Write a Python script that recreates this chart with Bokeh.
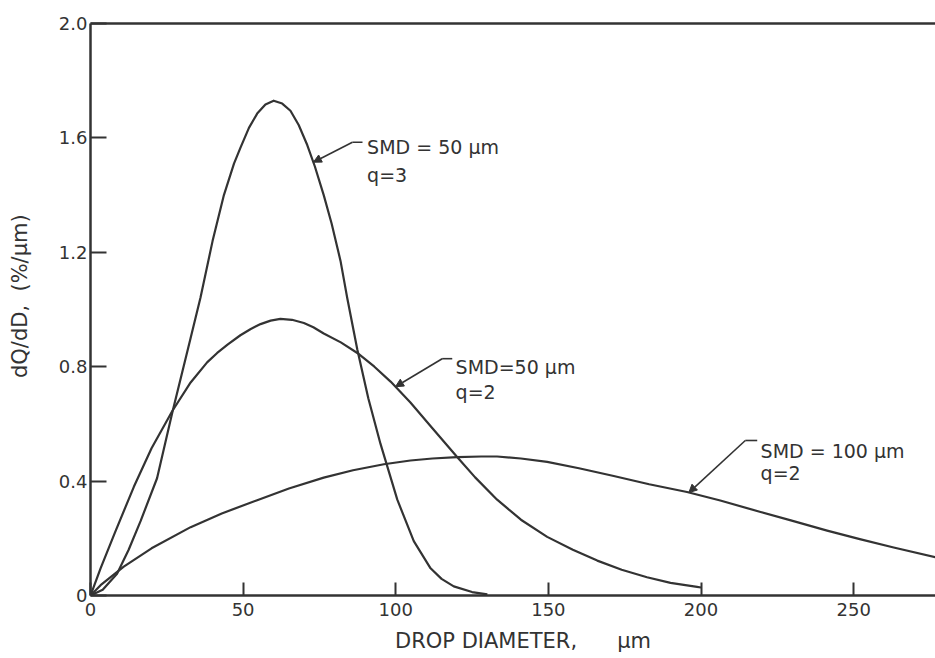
from bokeh.plotting import figure
from bokeh.models import FixedTicker, PrintfTickFormatter, LinearAxis, Arrow, NormalHead, Range1d
from bokeh.embed import file_html
from bokeh.resources import INLINE
from bokeh.core.properties import value

# ---- data ----
x_ticks = [0, 50, 100, 150, 200, 250]
y_ticks = [0, 0.4, 0.8, 1.2, 1.6, 2.0]

# SMD = 50 um, q = 3
smd50_q3_x = [0, 4, 8.7, 12.5, 16.4, 21.8, 26.8, 32.8, 36, 40, 43.7, 47, 49.1, 51.9, 54.6, 57.3,
              60, 62.8, 65.5, 68.2, 71, 73.5, 76.4, 79, 81.9, 84.1, 87.4, 91, 95, 100.5, 105.9,
              111.4, 115, 119, 125, 130]
smd50_q3_y = [0, 0.02, 0.076, 0.16, 0.26, 0.41, 0.64, 0.90, 1.04, 1.24, 1.40, 1.51, 1.565,
              1.635, 1.685, 1.717, 1.73, 1.72, 1.695, 1.645, 1.575, 1.50, 1.40, 1.30, 1.17,
              1.04, 0.86, 0.69, 0.53, 0.335, 0.19, 0.095, 0.058, 0.032, 0.012, 0.004]

# SMD = 50 um, q = 2
smd50_q2_x = [0, 3.3, 8, 14.2, 20, 26.8, 32.8, 38.2, 41.5, 45, 49.1, 52.5, 55.7, 59, 62.2, 66,
              69.9, 73, 76.4, 82, 87.4, 93, 98.3, 104.8, 112, 120.1, 126, 133.2, 141, 149.6, 158,
              166, 174, 182.3, 190, 198.7, 200]
smd50_q2_y = [0, 0.095, 0.22, 0.38, 0.515, 0.645, 0.745, 0.815, 0.848, 0.878, 0.91, 0.932, 0.949,
              0.961, 0.967, 0.964, 0.953, 0.938, 0.916, 0.885, 0.848, 0.80, 0.748, 0.675, 0.585,
              0.484, 0.413, 0.335, 0.265, 0.205, 0.16, 0.122, 0.09, 0.064, 0.044, 0.03, 0.028]

# SMD = 100 um, q = 2
smd100_q2_x = [0, 3.3, 10.9, 20, 32.8, 43, 54.6, 65, 76.4, 86, 96.1, 104.8, 112, 120.1, 128,
               133.2, 141, 149.6, 160, 171.4, 183, 195.4, 206.3, 219.5, 230, 241.3, 252, 263.1,
               276.8]
smd100_q2_y = [0, 0.036, 0.101, 0.165, 0.239, 0.287, 0.333, 0.374, 0.412, 0.438, 0.459, 0.472,
               0.479, 0.484, 0.486, 0.486, 0.479, 0.467, 0.445, 0.418, 0.389, 0.362, 0.332, 0.292,
               0.261, 0.227, 0.197, 0.168, 0.134]

# annotations: curve point, knee, end of leader, text anchor
ann_line1 = ["SMD = 50 \u03bcm", "SMD=50 \u03bcm", "SMD = 100 \u03bcm"]
ann_line2 = ["q=3", "q=2", "q=2"]
ann_curve_x = [73.0, 99.9, 196.0]
ann_curve_y = [1.515, 0.73, 0.36]
ann_knee_x = [85.8, 115.2, 214.5]
ann_knee_y = [1.585, 0.828, 0.542]
ann_end_x = [89.1, 118.5, 218.4]
ann_text_x = [90.6, 119.6, 219.5]
ann_text_y1 = [1.568, 0.798, 0.505]
ann_text_y2 = [1.47, 0.710, 0.427]

INK = "#333333"
FONT = "DejaVu Sans"
NB = "\u00a0"

p = figure(width=935, height=658, output_backend="svg", toolbar_location=None,
           x_range=Range1d(0, 276.8), y_range=Range1d(0, 2.0),
           min_border_left=90, min_border_right=0, min_border_top=23, min_border_bottom=63)
p.outline_line_color = None
p.grid.visible = False

for xs, ys in [(smd50_q3_x, smd50_q3_y), (smd50_q2_x, smd50_q2_y), (smd100_q2_x, smd100_q2_y)]:
    p.line(xs, ys, line_color=INK, line_width=2.2, line_join="round")

for i in range(3):
    p.line([ann_knee_x[i], ann_end_x[i]], [ann_knee_y[i], ann_knee_y[i]], line_color=INK, line_width=1.6)
    p.add_layout(Arrow(end=NormalHead(size=8, fill_color=INK, line_color=INK),
                       x_start=ann_knee_x[i], y_start=ann_knee_y[i],
                       x_end=ann_curve_x[i], y_end=ann_curve_y[i],
                       line_color=INK, line_width=1.6))
p.text(ann_text_x, ann_text_y1, text=ann_line1, text_font=value(FONT), text_font_size="19px",
       text_color=INK, text_baseline="alphabetic", text_align="left")
p.text(ann_text_x, ann_text_y2, text=ann_line2, text_font=value(FONT), text_font_size="19px",
       text_color=INK, text_baseline="alphabetic", text_align="left")

for ax in (p.xaxis[0], p.yaxis[0]):
    ax.axis_line_color = INK
    ax.axis_line_width = 2.5
    ax.major_tick_line_color = INK
    ax.major_tick_line_width = 2
    ax.major_tick_out = 0
    ax.minor_tick_line_color = None
    ax.major_label_text_font = FONT
    ax.major_label_text_font_size = "18px"
    ax.major_label_text_color = INK
    ax.axis_label_text_font = FONT
    ax.axis_label_text_font_size = "21px"
    ax.axis_label_text_font_style = "normal"
    ax.axis_label_text_color = INK

p.xaxis.ticker = FixedTicker(ticks=x_ticks)
p.xaxis.major_tick_in = 13
p.xaxis.major_label_standoff = 7
p.xaxis.axis_label = NB * 3 + "DROP DIAMETER," + NB * 6 + "\u03bcm"
p.xaxis.axis_label_standoff = 10

p.yaxis.ticker = FixedTicker(ticks=y_ticks)
p.yaxis.formatter = PrintfTickFormatter(format="%.1f")
p.yaxis.major_label_overrides = {0: "0"}
p.yaxis.major_tick_in = 16
p.yaxis.major_label_standoff = 3
p.yaxis.axis_label = NB * 4 + "dQ/dD," + NB * 2 + "(%/\u03bcm)"
p.yaxis.axis_label_standoff = 24

top = LinearAxis(ticker=FixedTicker(ticks=[]), axis_line_color=INK, axis_line_width=2.5,
                 major_label_text_font_size="0px", minor_tick_line_color=None,
                 major_tick_line_color=None)
p.add_layout(top, "above")

open("out.html", "w").write(file_html(p, INLINE))
